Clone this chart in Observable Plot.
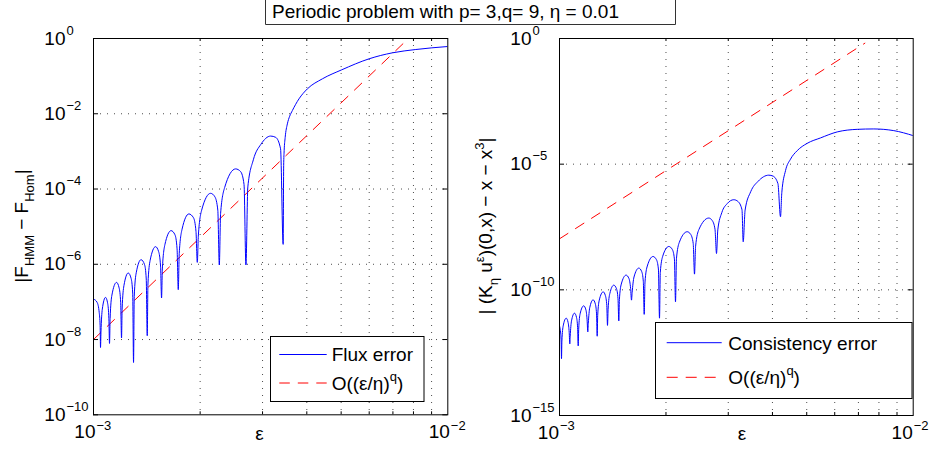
<!DOCTYPE html>
<html><head><meta charset="utf-8">
<script src="https://cdn.jsdelivr.net/npm/d3@7"></script>
<script src="https://cdn.jsdelivr.net/npm/@observablehq/plot@0.6"></script>
<style>
html,body{margin:0;padding:0;background:#fff;}
#fig{position:relative;width:929px;height:450px;overflow:hidden;font-family:"Liberation Sans",Arial,Helvetica,sans-serif;}
#fig svg{position:absolute;top:0;left:0;}
</style></head><body><div id="fig"></div>
<script>
// ---- data ----
const fluxEps = [1.0e-3,1.024e-3,1.038e-3,1.044e-3,1.0466e-3,1.0497e-3,1.0589e-3,1.0812e-3,1.0968e-3,1.1051e-3,
1.1097e-3,1.114e-3,1.1271e-3,1.1614e-3,1.1812e-3,1.1932e-3,1.1998e-3,1.2045e-3,1.2186e-3,1.2532e-3,
1.2771e-3,1.2901e-3,1.2972e-3,1.3031e-3,1.3201e-3,1.362e-3,1.3934e-3,1.4089e-3,1.4181e-3,1.4245e-3,
1.4451e-3,1.4967e-3,1.5272e-3,1.5462e-3,1.5563e-3,1.5644e-3,1.5901e-3,1.6555e-3,1.698e-3,1.7214e-3,
1.7349e-3,1.7456e-3,1.7783e-3,1.8587e-3,1.9152e-3,1.9466e-3,1.9631e-3,1.9772e-3,2.0201e-3,2.1405e-3,
2.2012e-3,2.2431e-3,2.2651e-3,2.2844e-3,2.3446e-3,2.5185e-3,2.6017e-3,2.6599e-3,2.693e-3,2.7265e-3,
2.8257e-3,2.967e-3,3.1624e-3,3.269e-3,3.3727e-3,3.4302e-3,3.4413e-3,3.4526e-3,3.4751e-3,3.5252e-3,
3.5783e-3,3.6418e-3,3.8015e-3,4.0149e-3,4.4265e-3,5.0183e-3,5.9937e-3,6.9789e-3,8.1214e-3,1.0e-2];
const fluxErr = [1.194e-7,9.70e-8,5.16e-8,2.33e-8,6.16e-9,1.573e-8,6.43e-8,1.317e-7,8.96e-8,3.574e-8,
7.87e-9,3.60e-8,1.517e-7,3.30e-7,2.357e-7,9.58e-8,1.096e-8,6.43e-8,2.697e-7,5.87e-7,
4.19e-7,1.714e-7,2.46e-9,1.392e-7,5.94e-7,1.325e-6,9.82e-7,4.06e-7,1.262e-8,2.993e-7,
1.277e-6,2.938e-6,2.164e-6,8.96e-7,1.27e-7,7.50e-7,3.30e-6,7.83e-6,6.09e-6,2.568e-6,
2.111e-7,1.913e-6,8.58e-6,2.177e-5,1.724e-5,7.45e-6,1.123e-6,6.02e-6,2.764e-5,7.69e-5,
6.20e-5,2.746e-5,9.58e-7,2.272e-5,1.089e-4,3.424e-4,2.902e-4,1.325e-4,9.58e-7,1.137e-4,
5.98e-4,1.535e-3,2.553e-3,2.357e-3,1.172e-3,3.383e-6,4.19e-4,1.05e-3,2.33e-3,5.39e-3,
8.58e-3,1.216e-2,2.49e-2,4.59e-2,8.48e-2,0.1471,0.2884,0.4165,0.5097,0.6127];

const consEps = [1.0e-3,1.0078e-3,1.0111e-3,1.0131e-3,1.0157e-3,1.0244e-3,1.0446e-3,1.0576e-3,1.0652e-3,1.0694e-3,
1.0721e-3,1.0813e-3,1.1026e-3,1.117e-3,1.1251e-3,1.1295e-3,1.1331e-3,1.1435e-3,1.1706e-3,1.1875e-3,
1.1968e-3,1.2023e-3,1.2062e-3,1.2173e-3,1.2445e-3,1.2625e-3,1.2727e-3,1.2782e-3,1.2823e-3,1.2958e-3,
1.3291e-3,1.3483e-3,1.3606e-3,1.3668e-3,1.3722e-3,1.3874e-3,1.424e-3,1.4493e-3,1.4635e-3,1.4712e-3,
1.4769e-3,1.4953e-3,1.5427e-3,1.5722e-3,1.5887e-3,1.598e-3,1.6043e-3,1.6242e-3,1.6758e-3,1.7077e-3,
1.7256e-3,1.7357e-3,1.7448e-3,1.7711e-3,1.8381e-3,1.8792e-3,1.9038e-3,1.9175e-3,1.9275e-3,1.9579e-3,
2.0372e-3,2.0841e-3,2.1128e-3,2.128e-3,2.1412e-3,2.1813e-3,2.2964e-3,2.3493e-3,2.3879e-3,2.4081e-3,
2.4254e-3,2.4781e-3,2.643e-3,2.7004e-3,2.7519e-3,2.779e-3,2.8026e-3,2.8765e-3,2.9794e-3,3.1102e-3,
3.1944e-3,3.2808e-3,3.3065e-3,3.3477e-3,3.472e-3,3.6434e-3,3.9061e-3,4.0144e-3,4.1445e-3,4.2153e-3,
4.2511e-3,4.3548e-3,4.4989e-3,4.6995e-3,5.0154e-3,5.469e-3,6.0973e-3,6.9451e-3,7.7378e-3,8.8136e-3,1.0e-2];
const consErr = [3.68e-12,1.766e-12,7.73e-13,1.832e-13,9.04e-13,3.68e-12,7.46e-12,5.02e-12,2.01e-12,7.06e-13,
1.429e-12,5.82e-12,1.18e-11,8.02e-12,3.18e-12,5.87e-13,2.69e-12,1.107e-11,2.31e-11,1.596e-11,
6.44e-12,2.12e-12,4.67e-12,1.919e-11,4.0e-11,2.77e-11,1.107e-11,1.429e-12,9.55e-12,3.93e-11,
8.32e-11,5.87e-11,2.37e-11,3.85e-12,1.687e-11,7.06e-11,1.538e-10,1.096e-10,4.46e-11,5.82e-12,
4.04e-11,1.702e-10,3.85e-10,2.79e-10,1.148e-10,3.89e-11,7.66e-11,3.24e-10,7.33e-10,5.31e-10,
2.18e-10,1.057e-11,2.05e-10,8.87e-10,2.12e-9,1.596e-9,6.75e-10,7.46e-12,4.98e-10,2.16e-9,
5.31e-9,4.04e-9,1.702e-9,3.33e-11,1.718e-9,7.73e-9,2.05e-8,1.611e-8,7.0e-9,4.22e-10,
5.41e-9,2.5e-8,7.19e-8,5.82e-8,2.59e-8,2.79e-9,2.43e-8,1.18e-7,2.69e-7,3.85e-7,
3.30e-7,1.524e-7,8.17e-9,1.483e-7,8.02e-7,2.08e-6,3.65e-6,3.36e-6,1.702e-6,8.09e-8,
7.33e-7,5.51e-6,1.581e-5,3.45e-5,6.75e-5,1.107e-4,1.919e-4,2.43e-4,2.52e-4,2.16e-4,1.365e-4];

// O((eps/eta)^q) reference lines (end points)
const refEpsL = [1.0e-3, 7.5e-3];
const refErrL = [1.0e-8, 0.75];
const refEpsR = [1.0e-3, 7.3e-3];
const refErrR = [1.07e-8, 0.65];

// ticks
const xTicks = [1e-3, 1e-2];
const xTickExp = ["\u22123", "\u22122"];
const xMinor = [2e-3, 3e-3, 4e-3, 5e-3, 6e-3, 7e-3, 8e-3, 9e-3];
const yTicksL = [1, 1e-2, 1e-4, 1e-6, 1e-8, 1e-10];
const yTickExpL = ["0", "\u22122", "\u22124", "\u22126", "\u22128", "\u221210"];
const yTicksR = [1, 1e-5, 1e-10, 1e-15];
const yTickExpR = ["0", "\u22125", "\u221210", "\u221215"];

const FONT = '"Liberation Sans", Arial, Helvetica, sans-serif';

function panel(c) {
  const fw = c.right - c.left, fh = c.bottom - c.top;
  return Plot.plot({
    width: 929, height: 450,
    marginLeft: c.left, marginRight: 929 - c.right, marginTop: c.top, marginBottom: 450 - c.bottom,
    x: {type: "log", domain: [1e-3, 1e-2], axis: null},
    y: {type: "log", domain: c.yDomain, axis: null},
    style: {background: "transparent", overflow: "visible"},
    marks: [
      Plot.ruleX(xMinor, {x: d => d, stroke: "#000", strokeOpacity: 0.7, strokeDasharray: "1,6"}),
      Plot.ruleY(c.yTicks.slice(1, -1), {y: d => d, stroke: "#000", strokeOpacity: 0.7, strokeDasharray: "1,6"}),
      Plot.line(c.refY, {x: c.refX, y: c.refY, stroke: "#ff0000", strokeWidth: 1, strokeDasharray: "10,9", clip: true}),
      Plot.line(c.errY, {x: c.errX, y: c.errY, stroke: "#0000ff", strokeWidth: 1, curve: "monotone-x", clip: true}),
      Plot.tickX(xMinor, {x: d => d, insetTop: fh - 3}),
      Plot.tickX(xMinor, {x: d => d, insetBottom: fh - 3}),
      Plot.tickY(c.yTicks, {y: d => d, insetRight: fw - 5}),
      Plot.tickY(c.yTicks, {y: d => d, insetLeft: fw - 5}),
      Plot.frame({stroke: "#000"}),
      Plot.text(c.yTicks, {y: d => d, frameAnchor: "left", text: () => "10", textAnchor: "end", dx: -28, fontSize: 19, fontFamily: FONT}),
      Plot.text(c.yTicks, {y: d => d, frameAnchor: "left", text: c.yExp, textAnchor: "start", dx: -27, dy: -8, fontSize: 13, fontFamily: FONT}),
      Plot.text(xTicks, {x: d => d, frameAnchor: "bottom", text: () => "10", textAnchor: "end", dx: 2 + c.xdx, dy: 23.6, fontSize: 19, fontFamily: FONT}),
      Plot.text(xTicks, {x: d => d, frameAnchor: "bottom", text: xTickExp, textAnchor: "start", dx: 3 + c.xdx, dy: 14.8, fontSize: 13, fontFamily: FONT})
    ]
  });
}

const fig = document.getElementById("fig");
fig.appendChild(panel({left: 93, right: 447.3, top: 38, bottom: 414.3, yDomain: [1e-10, 1], xdx: 0,
  yTicks: yTicksL, yExp: yTickExpL, errX: fluxEps, errY: fluxErr, refX: refEpsL, refY: refErrL}));
fig.appendChild(panel({left: 559, right: 912.7, top: 38, bottom: 415, yDomain: [1e-15, 1], xdx: -2.5,
  yTicks: yTicksR, yExp: yTickExpR, errX: consEps, errY: consErr, refX: refEpsR, refY: refErrR}));

// overlay: title, axis labels, legends
const ov = `
<svg width="929" height="450" viewBox="0 0 929 450" xmlns="http://www.w3.org/2000/svg" font-family='${FONT}' font-size="19" fill="#000">
  <path d="M265.5,0 V24.5 H675.5 V0" fill="none" stroke="#333" stroke-width="1"/>
  <text x="272" y="18.3">Periodic problem with p= 3,q= 9, η = 0.01</text>

  <text x="259.5" y="439.5" text-anchor="middle">ε</text>
  <text x="742" y="439.5" text-anchor="middle">ε</text>

  <text transform="translate(28,226) rotate(-90)" text-anchor="middle">|F<tspan font-size="13" dy="6">HMM</tspan><tspan dy="-6"> − F</tspan><tspan font-size="13" dy="6">Hom</tspan><tspan dy="-6">|</tspan></text>
  <text transform="translate(491.5,226) rotate(-90)" text-anchor="middle">| (K<tspan font-size="13" dy="6">η</tspan><tspan dy="-6"> u</tspan><tspan font-size="13" dy="-8">ε</tspan><tspan dy="8">)(0,x) − x − x</tspan><tspan font-size="13" dy="-8">3</tspan><tspan dy="8">|</tspan></text>

  <rect x="270.5" y="336.5" width="153.5" height="65" fill="#fff" stroke="#000" stroke-width="1"/>
  <line x1="279.3" x2="326.7" y1="354.5" y2="354.5" stroke="#0000ff" stroke-width="1"/>
  <line x1="279.3" x2="326.7" y1="383" y2="383" stroke="#ff0000" stroke-width="1" stroke-dasharray="10.5,8"/>
  <text x="331.7" y="361">Flux error</text>
  <text x="331.7" y="389.5">O((ε/η)<tspan font-size="13" dy="-9">q</tspan><tspan dy="9">)</tspan></text>

  <rect x="655.5" y="322.5" width="256.5" height="76" fill="#fff" stroke="#000" stroke-width="1"/>
  <line x1="666.7" x2="721.7" y1="342.7" y2="342.7" stroke="#0000ff" stroke-width="1"/>
  <line x1="666.7" x2="721.7" y1="377.3" y2="377.3" stroke="#ff0000" stroke-width="1" stroke-dasharray="11,8"/>
  <text x="728.3" y="349.5">Consistency error</text>
  <text x="728.3" y="384">O((ε/η)<tspan font-size="13" dy="-9">q</tspan><tspan dy="9">)</tspan></text>
</svg>`;
fig.insertAdjacentHTML("beforeend", ov);
</script>
</body></html>
